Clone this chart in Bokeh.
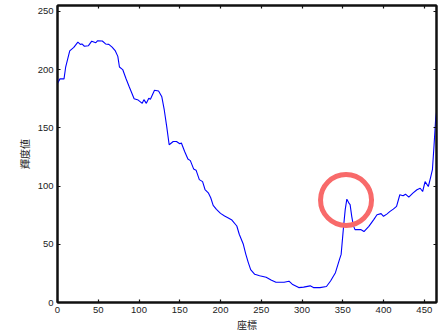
from bokeh.plotting import figure
from bokeh.models import Range1d, LinearAxis, FixedTicker, CustomJSTickFormatter
from bokeh.embed import file_html
from bokeh.resources import INLINE

# Data
position = [0, 3, 8, 10, 15, 20, 25, 28, 30, 33, 38, 42, 47, 49, 55, 59, 63, 67, 71, 74,
            76, 80, 84, 88, 94, 99, 104, 106, 109, 112, 114, 119, 124, 128, 131, 134, 137,
            142, 146, 150, 152, 156, 160, 163, 167, 170, 174, 178, 181, 185, 188, 191, 195,
            200, 205, 209, 214, 220, 223, 228, 231, 234, 237, 242, 248, 256, 262, 268, 278,
            284, 288, 296, 302, 310, 314, 322, 330, 335, 341, 346, 348, 351, 353, 355, 358,
            359, 361, 363, 365, 372, 376, 382, 388, 392, 397, 400, 404, 408, 412, 416, 420,
            424, 427, 431, 436, 441, 445, 448, 451, 455, 458, 460, 462, 464, 465]
brightness = [188, 192, 192, 202, 216, 219, 223.5, 221.6, 222, 220, 220.5, 224.4, 223, 224.7,
              224.5, 222, 221.6, 219.3, 216, 211.3, 202.2, 200, 192.3, 185.2, 175, 173.8, 171,
              174.2, 171, 175.3, 174.5, 182.3, 181.6, 176.6, 165.3, 151, 135.4, 138.2, 138.2,
              136.3, 137, 129.7, 123.2, 121.8, 114.7, 113.6, 105.5, 103.8, 97, 94.2, 89.9,
              83.4, 80, 76.5, 74.2, 72.8, 70.8, 65.7, 58.6, 50, 41.6, 34.5, 28.2, 24.2, 23,
              21.7, 19.4, 17.4, 17.4, 18.3, 15.7, 12.8, 13.2, 14.3, 12.8, 12.8, 13.7, 18.5,
              25.6, 37, 41.3, 65.4, 79.7, 88.7, 84.8, 84, 74, 66, 62.6, 62.6, 60.9, 65.4, 71.2,
              75.4, 76.3, 74, 75.9, 78.2, 80.2, 82.5, 92.5, 91.6, 93, 90.4, 93.9, 96.8, 98.1,
              95.3, 103.8, 99.6, 108.1, 114, 135, 158, 163]
highlight_x = [354]
highlight_y = [88]
x_ticks = [0, 50, 100, 150, 200, 250, 300, 350, 400, 450]
y_ticks = [0, 50, 100, 150, 200, 250]

p = figure(width=442, height=334, output_backend="svg", toolbar_location=None,
           x_range=Range1d(0, 465), y_range=Range1d(0, 255),
           min_border_left=57, min_border_right=6, min_border_top=5, min_border_bottom=10)
p.grid.visible = False
p.outline_line_color = "#111111"
p.outline_line_width = 2
p.background_fill_color = "white"
p.border_fill_color = "white"

p.line(position, brightness, line_color="#0000ff", line_width=1.1)
p.scatter(highlight_x, highlight_y, marker="circle", size=51, fill_color=None,
          line_color="#f86a6a", line_width=5)

p.xaxis.axis_label = "座標"
p.yaxis.axis_label = "輝度値"

for ax, ticks in ((p.xaxis[0], x_ticks), (p.yaxis[0], y_ticks)):
    ax.ticker = FixedTicker(ticks=ticks)
    ax.major_tick_in = 3
    ax.major_tick_out = 0
    ax.minor_tick_line_color = None
    ax.axis_line_width = 2
    ax.axis_line_color = "#111111"
    ax.major_tick_line_width = 1.2
    ax.major_tick_line_color = "#111111"
    ax.major_label_text_font = "Liberation Sans"
    ax.major_label_text_font_size = "9.5px"
    ax.major_label_text_color = "#222222"
    ax.axis_label_text_font = "Noto Sans CJK JP"
    ax.axis_label_text_font_size = "10px"
    ax.axis_label_text_font_style = "normal"
    ax.axis_label_text_color = "#222222"
    ax.major_label_standoff = 4

p.xaxis[0].axis_label_standoff = 1
p.yaxis[0].axis_label_standoff = 3

blank = CustomJSTickFormatter(code="return '';")
right = LinearAxis(ticker=FixedTicker(ticks=y_ticks), major_tick_in=3, major_tick_out=0,
                   minor_tick_line_color=None, major_label_text_font_size="1px",
                   formatter=blank, major_label_standoff=0, axis_line_width=2,
                   axis_line_color="#111111", major_tick_line_width=1.2,
                   major_tick_line_color="#111111")
top = LinearAxis(ticker=FixedTicker(ticks=x_ticks), major_tick_in=3, major_tick_out=0,
                 minor_tick_line_color=None, major_label_text_font_size="1px",
                 formatter=blank, major_label_standoff=0, axis_line_width=2,
                 axis_line_color="#111111", major_tick_line_width=1.2,
                 major_tick_line_color="#111111")
p.add_layout(right, "right")
p.add_layout(top, "above")

open("out.html", "w").write(file_html(p, INLINE))
